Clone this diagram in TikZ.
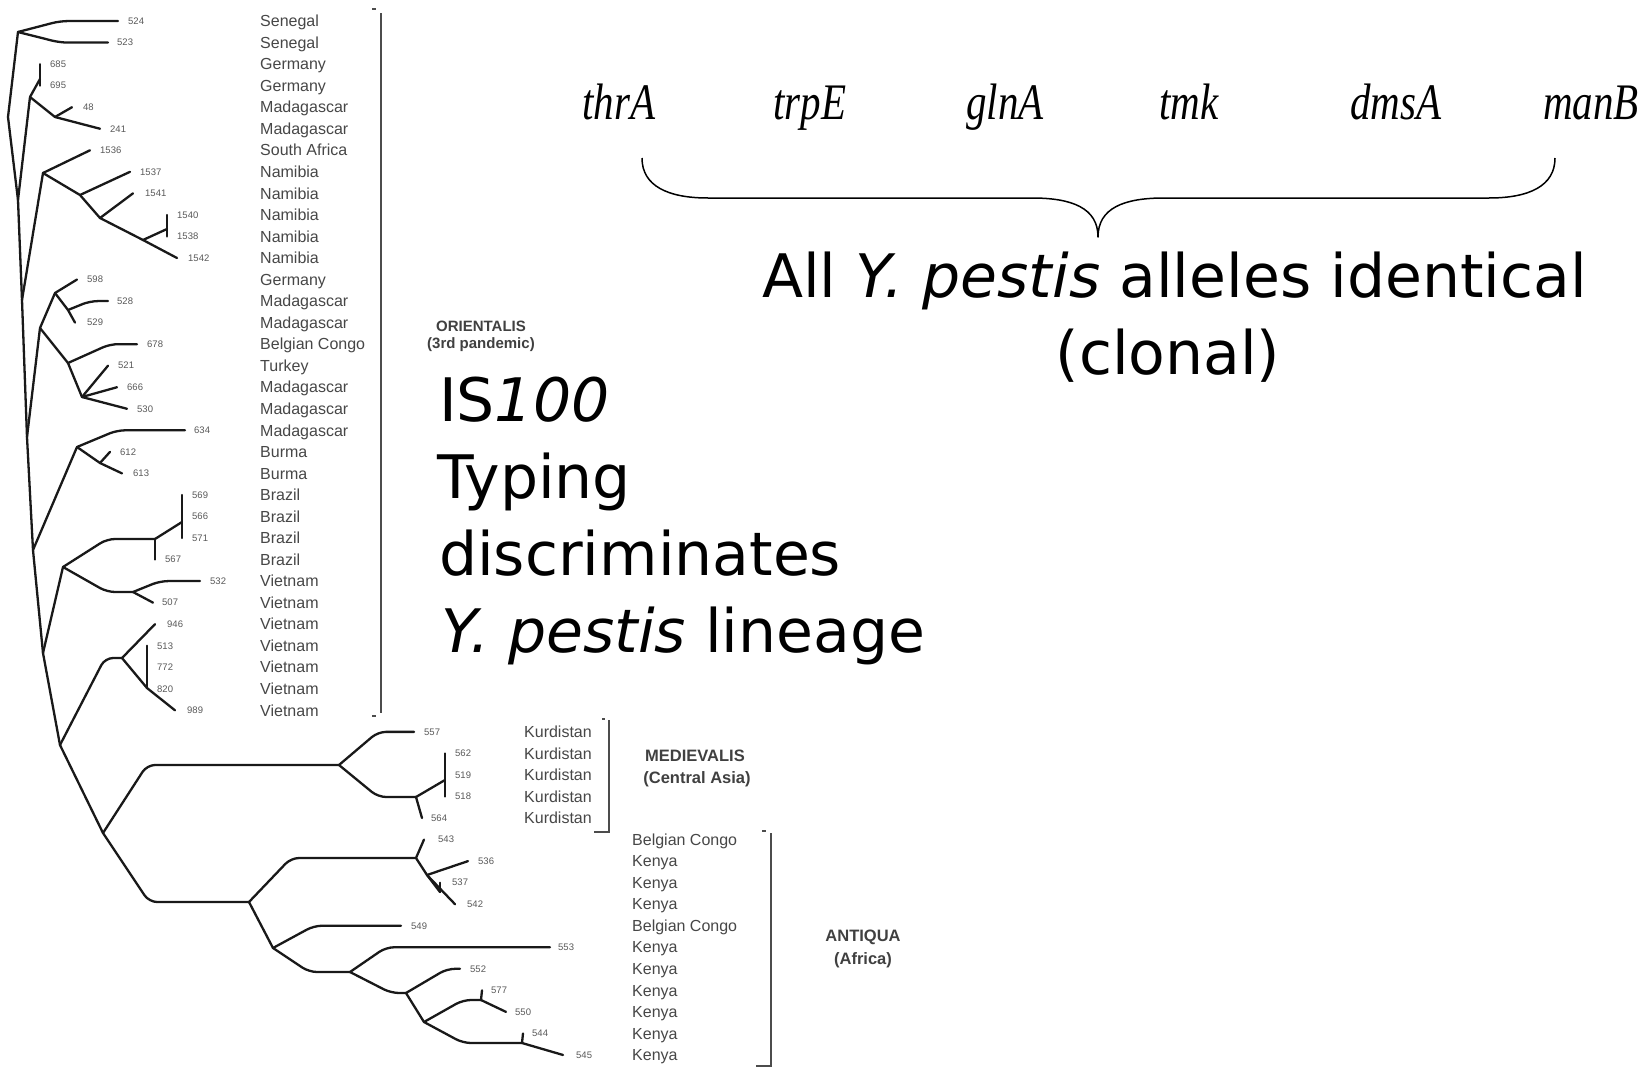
\documentclass[tikz,border=0pt]{standalone}
\usepackage{fontspec}
\usepackage{graphicx}
\setmainfont{DejaVu Sans}
\newfontfamily\labfont{Liberation Sans}
\newfontfamily\genefont{Liberation Serif}

\tikzset{
  br/.style={draw=black!90, line width=2.3pt, rounded corners=8pt, line join=round, line cap=round},
  bracket/.style={draw=black!70, line width=1.8pt},
  num/.style={anchor=base west, inner sep=0pt, font=\labfont\fontsize{9.5}{9.5}\selectfont, text=black!65},
  ctry/.style={anchor=base west, inner sep=0pt, font=\labfont\fontsize{16}{16}\selectfont, text=black!72},
  grp/.style={inner sep=0pt, font=\labfont\bfseries\fontsize{#1}{#1}\selectfont, text=black!75},
  gene/.style={anchor=base, inner sep=0pt, font=\genefont\itshape\fontsize{41}{41}\selectfont},
  big/.style={anchor=base west, inner sep=0pt, font=\fontsize{60}{77}\selectfont},
  brace/.style={draw=black, line width=1.5pt, line join=round},
}

\begin{document}
\begin{tikzpicture}[x=1pt,y=-1pt]
\useasboundingbox (0,0) rectangle (1650,1068);
\fill[white] (0,0) rectangle (1650,1068);

% ---------- leaves: name / end x / row / label x ----------
\foreach \nm/\lx/\r/\tx in {
  524/118/1/128, 523/108/2/117, 685/40/3/50, 695/40/4/50, 48/72/5/83, 241/100/6/110,
  1536/90/7/100, 1537/130/8/140, 1541/133/9/145, 1540/167/10/177, 1538/167/11/177, 1542/177/12/188,
  598/77/13/87, 528/108/14/117, 529/75/15/87, 678/137/16/147, 521/108/17/118, 666/117/18/127,
  530/127/19/137, 634/185/20/194, 612/110/21/120, 613/122/22/133, 569/182/23/192, 566/182/24/192,
  571/182/25/192, 567/155/26/165, 532/200/27/210, 507/153/28/162, 946/155/29/167, 513/147/30/157,
  772/147/31/157, 820/147/32/157, 989/175/33/187,
  557/414/34/424, 562/445/35/455, 519/445/36/455, 518/445/37/455, 564/422/38/431,
  543/424/39/438, 536/468/40/478, 537/440/41/452, 542/455/42/467, 549/401/43/411, 553/550/44/558,
  552/460/45/470, 577/482/46/491, 550/506/47/515, 544/523/48/532, 545/563/49/576}
{
  \coordinate (l\nm) at (\lx,{21.05+(\r-1)*21.54});
  \node[num] (n\nm) at (\tx,{21.05+(\r-1)*21.54+3.3}) {\nm};
}

% ---------- country names ----------
\foreach \r/\c in {1/Senegal, 2/Senegal, 3/Germany, 4/Germany, 5/Madagascar, 6/Madagascar,
  7/South Africa, 8/Namibia, 9/Namibia, 10/Namibia, 11/Namibia, 12/Namibia, 13/Germany,
  14/Madagascar, 15/Madagascar, 16/Belgian Congo, 17/Turkey, 18/Madagascar, 19/Madagascar,
  20/Madagascar, 21/Burma, 22/Burma, 23/Brazil, 24/Brazil, 25/Brazil, 26/Brazil, 27/Vietnam,
  28/Vietnam, 29/Vietnam, 30/Vietnam, 31/Vietnam, 32/Vietnam, 33/Vietnam}
  \node[ctry] (c\r) at (260,{21.05+(\r-1)*21.54+5.7}) {\c};
\foreach \r in {34,...,38}
  \node[ctry] (c\r) at (524,{21.05+(\r-1)*21.54+5.7}) {Kurdistan};
\foreach \r/\c in {39/Belgian Congo, 40/Kenya, 41/Kenya, 42/Kenya, 43/Belgian Congo, 44/Kenya,
  45/Kenya, 46/Kenya, 47/Kenya, 48/Kenya, 49/Kenya}
  \node[ctry] (c\r) at (632,{21.05+(\r-1)*21.54+5.7}) {\c};

% ---------- internal nodes ----------
\coordinate (S) at (18,32);   \coordinate (R) at (8,117);   \coordinate (A) at (18,200);
\coordinate (G) at (30,97);   \coordinate (g0) at (40,79);  \coordinate (M1) at (55,117);
\coordinate (B) at (22,300);  \coordinate (N) at (43,173);  \coordinate (N2) at (80,195);
\coordinate (N3) at (100,218);\coordinate (N4) at (143,240);\coordinate (n0) at (167,229);
\coordinate (C) at (27,437);  \coordinate (X) at (40,328);  \coordinate (Y1) at (55,293);
\coordinate (Y2) at (68,310); \coordinate (Y3) at (68,363); \coordinate (Y4) at (82,397);
\coordinate (D) at (33,550);  \coordinate (E) at (77,447);  \coordinate (F) at (100,463);
\coordinate (H) at (43,653);  \coordinate (I) at (63,567);  \coordinate (Bz) at (155,539);
\coordinate (bz0) at (182,522);\coordinate (J) at (133,592);\coordinate (K) at (60,745);
\coordinate (L) at (122,658); \coordinate (M) at (147,688); \coordinate (Q) at (103,833);
\coordinate (MV) at (339,765);\coordinate (MV2) at (416,797);\coordinate (mv0) at (445,780);
\coordinate (AN) at (249,902);\coordinate (AN1) at (416,858);\coordinate (AN2) at (427,875);
\coordinate (a0) at (440,892);\coordinate (AN3) at (273,948);\coordinate (AN4) at (350,972);
\coordinate (AN5) at (406,993);\coordinate (AN6) at (424,1022);\coordinate (AN7) at (481,1000);
\coordinate (AN8) at (522,1043);

% ---------- branches: ORIENTALIS ----------
\draw[br] (S) -- ([xshift=-58pt]l524) -- (l524);
\draw[br] (S) -- ([xshift=-48pt]l523) -- (l523);
\draw[br] (R) -- (S);  \draw[br] (R) -- (A);  \draw[br] (G) -- (A);
\draw[br] (G) -- (g0); \draw[br] (l685) -- (l695);
\draw[br] (G) -- (M1); \draw[br] (M1) -- (l48); \draw[br] (M1) -- (l241);
\draw[br] (A) -- (B);  \draw[br] (N) -- (B);
\draw[br] (N) -- (l1536); \draw[br] (N) -- (N2); \draw[br] (N2) -- (l1537);
\draw[br] (N2) -- (N3); \draw[br] (N3) -- (l1541); \draw[br] (N3) -- (N4);
\draw[br] (N4) -- (n0); \draw[br] (l1540) -- (l1538); \draw[br] (N4) -- (l1542);
\draw[br] (B) -- (C);  \draw[br] (X) -- (C);
\draw[br] (X) -- (Y1); \draw[br] (Y1) -- (l598); \draw[br] (Y1) -- (Y2);
\draw[br] (Y2) -- ([xshift=-18pt]l528) -- (l528); \draw[br] (Y2) -- (l529);
\draw[br] (X) -- (Y3); \draw[br] (Y3) -- ([xshift=-27pt]l678) -- (l678);
\draw[br] (Y3) -- (Y4); \draw[br] (Y4) -- (l521); \draw[br] (Y4) -- (l666); \draw[br] (Y4) -- (l530);
\draw[br] (C) -- (D);  \draw[br] (E) -- (D);
\draw[br] (E) -- ([xshift=-68pt]l634) -- (l634);
\draw[br] (E) -- (F);  \draw[br] (F) -- (l612); \draw[br] (F) -- (l613);
\draw[br] (D) -- (H);  \draw[br] (I) -- (H);
\draw[br] (I) -- ([xshift=-48pt]Bz) -- (Bz); \draw[br] (Bz) -- (bz0); \draw[br] (l569) -- (l571);
\draw[br] (Bz) -- (l567);
\draw[br] (I) -- ([xshift=-26pt]J) -- (J); \draw[br] (J) -- ([xshift=-40pt]l532) -- (l532);
\draw[br] (J) -- (l507);
\draw[br] (H) -- (K);  \draw[br] (K) -- ([xshift=-17pt]L) -- (L);
\draw[br] (L) -- (l946); \draw[br] (L) -- (M); \draw[br] (l513) -- (M); \draw[br] (M) -- (l989);

% ---------- branches: MEDIEVALIS ----------
\draw[br] (K) -- (Q);
\draw[br] (Q) -- ([xshift=-192pt]MV) -- (MV);
\draw[br] (MV) -- ([xshift=-36pt]l557) -- (l557);
\draw[br] (MV) -- ([xshift=-38pt]MV2) -- (MV2);
\draw[br] (MV2) -- (mv0); \draw[br] (l562) -- (l518); \draw[br] (MV2) -- (l564);

% ---------- branches: ANTIQUA ----------
\draw[br] (Q) -- ([xshift=-100pt]AN) -- (AN);
\draw[br] (AN) -- ([xshift=-125pt]AN1) -- (AN1);
\draw[br] (AN1) -- (l543); \draw[br] (AN1) -- (AN2);
\draw[br] (AN2) -- (l536); \draw[br] (AN2) -- (a0); \draw[br] (l537) -- (a0); \draw[br] (AN2) -- (l542);
\draw[br] (AN) -- (AN3);
\draw[br] (AN3) -- ([xshift=-87pt]l549) -- (l549);
\draw[br] (AN3) -- ([xshift=-41pt]AN4) -- (AN4);
\draw[br] (AN4) -- ([xshift=-164pt]l553) -- (l553);
\draw[br] (AN4) -- ([xshift=-15pt]AN5) -- (AN5);
\draw[br] (AN5) -- ([xshift=-13pt]l552) -- (l552);
\draw[br] (AN5) -- (AN6);
\draw[br] (AN6) -- ([xshift=-18pt]AN7) -- (AN7); \draw[br] (l577) -- (AN7); \draw[br] (AN7) -- (l550);
\draw[br] (AN6) -- ([xshift=-59pt]AN8) -- (AN8); \draw[br] (l544) -- (AN8); \draw[br] (AN8) -- (l545);

% ---------- group brackets ----------
\coordinate (oT) at (381,13);  \coordinate (oB) at (381,713);
\coordinate (mT) at (609,720); \coordinate (mB) at (609,832);
\coordinate (aT) at (771,833); \coordinate (aB) at (771,1066);
\draw[bracket] (oT) -- (oB);
\draw[bracket] ([xshift=-9pt,yshift=4pt]oT) -- ([xshift=-5pt,yshift=4pt]oT);
\draw[bracket] ([xshift=-9pt,yshift=-3pt]oB) -- ([xshift=-5pt,yshift=-3pt]oB);
\draw[bracket] (mT) -- (mB) -- ([xshift=-15pt]mB);
\draw[bracket] ([xshift=-7pt,yshift=1pt]mT) -- ([xshift=-4pt,yshift=1pt]mT);
\draw[bracket] (aT) -- (aB) -- ([xshift=-15pt]aB);
\draw[bracket] ([xshift=-9pt,yshift=2pt]aT) -- ([xshift=-5pt,yshift=2pt]aT);

% ---------- group labels ----------
\node[grp=15] (gO1) at (481,326) {ORIENTALIS};
\node[grp=15] (gO2) at (481,345) {(3rd pandemic)};
\node[grp=16.5] (gM1) at (695,756) {MEDIEVALIS};
\node[grp=16.5] (gM2) at (697,779) {(Central Asia)};
\node[grp=16.5] (gA1) at (863,937) {ANTIQUA};
\node[grp=16.5] (gA2) at (863,960) {(Africa)};

% ---------- gene names and brace ----------
\foreach \g/\gx in {thrA/619, trpE/810, glnA/1005, tmk/1189, dmsA/1396, manB/1591}
  \node[gene] (gene\g) at (\gx,119) {\scalebox{1}[1.25]{\g}};
\coordinate (brL) at (642,158);
\coordinate (brM) at (1098,237);
\coordinate (brR) at (1555,158);
\draw[brace] (brL) .. controls (642,186) and (668,198) .. (708,198) -- (1032,198)
  .. controls (1072,198) and (1098,208) .. (brM)
  .. controls (1098,208) and (1124,198) .. (1164,198) -- (1489,198)
  .. controls (1529,198) and (1555,186) .. (brR);

% ---------- headline texts ----------
\node[big] (all) at (762,297) {All \textit{Y. pestis} alleles identical};
\node[big, anchor=base] (clonal) at (1168,374) {(clonal)};
\node[big] (is) at (439,421) {IS\textit{100}};
\node[big] (typ) at (437,498) {Typing};
\node[big] (dis) at (439,575) {discriminates};
\node[big] (lin) at (441,652) {\textit{Y. pestis} lineage};
\end{tikzpicture}
\end{document}
